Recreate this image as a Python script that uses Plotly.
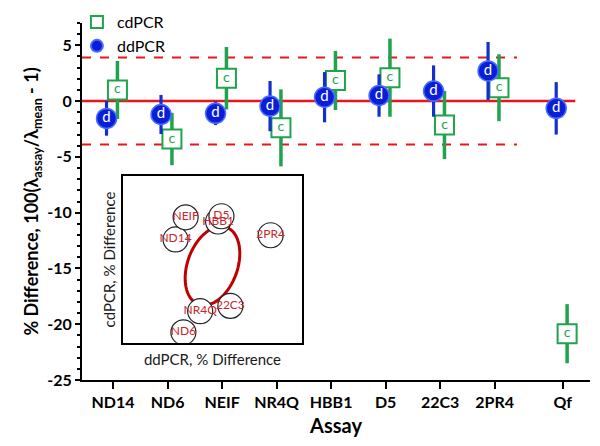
import math
import plotly.graph_objects as go

# ---------------- data ----------------
assays = ["ND14", "ND6", "NEIF", "NR4Q", "HBB1", "D5", "22C3", "2PR4", "Qf"]
assay_pos = [1, 2, 3, 4, 5, 6, 7, 8, 9.25]
dd_vals = [-1.55, -1.2, -1.1, -0.45, 0.35, 0.5, 0.9, 2.7, -0.65]
dd_err = [1.55, 1.75, 1.05, 2.25, 2.25, 1.9, 2.3, 2.6, 2.35]
cd_vals = [1.0, -3.4, 2.05, -2.4, 1.85, 2.1, -2.15, 1.2, -20.85]
cd_err = [2.6, 2.35, 2.8, 3.45, 2.65, 3.5, 3.05, 3.0, 2.65]
limit_band = 3.9
y_ticks = [5, 0, -5, -10, -15, -20, -25]

# inset: ddPCR vs cdPCR differences for the 8 assays (Qf excluded)
inset_names = assays[:8]
inset_dd = dd_vals[:8]
inset_cd = cd_vals[:8]

# ---------------- style ----------------
FONT = "Lato"
GREEN = "#1fa34c"
BLUE = "#0a1ed8"
BLUE_BAR = "#1430cc"
RED = "#e8161c"
INSET_RED = "#c8262c"
D_OFF = -0.12
C_OFF = 0.08

fig = go.Figure()

cx = [p + C_OFF for p in assay_pos]
dx = [p + D_OFF for p in assay_pos]

fig.add_trace(go.Scatter(
    x=cx, y=cd_vals, mode="markers", name="cdPCR",
    marker=dict(symbol="square", size=19, color="white", line=dict(color=GREEN, width=2)),
    error_y=dict(type="data", array=cd_err, color=GREEN, thickness=3.5, width=0),
))
fig.add_trace(go.Scatter(
    x=cx, y=cd_vals, mode="text", text=["c"] * len(cx), showlegend=False,
    textfont=dict(family=FONT, size=14, color=GREEN), textposition="middle center",
))
fig.add_trace(go.Scatter(
    x=dx, y=dd_vals, mode="markers", name="ddPCR",
    marker=dict(symbol="circle", size=20, color=BLUE, line=dict(color="#4a6cff", width=1.5)),
    error_y=dict(type="data", array=dd_err, color=BLUE_BAR, thickness=3.2, width=0),
))
fig.add_trace(go.Scatter(
    x=dx, y=dd_vals, mode="text", text=["d"] * len(dx), showlegend=False,
    textfont=dict(family=FONT, size=15, color="white"), textposition="middle center",
))

# inset scatter
fig.add_trace(go.Scatter(
    x=inset_dd, y=inset_cd, mode="markers+text", text=inset_names, showlegend=False,
    xaxis="x2", yaxis="y2",
    marker=dict(symbol="circle", size=25, color="white", line=dict(color="#222222", width=1.2)),
    textfont=dict(family=FONT, size=12, color=INSET_RED), textposition="middle center",
))

# reference lines
fig.add_shape(type="line", xref="x", yref="y", x0=0.43, x1=9.48, y0=0, y1=0,
              line=dict(color=RED, width=2.5), layer="below")
for yy in (limit_band, -limit_band):
    fig.add_shape(type="line", xref="x", yref="y", x0=0.43, x1=8.41, y0=yy, y1=yy,
                  line=dict(color=RED, width=2, dash="dash"), layer="below")

# ellipse in inset (decoration)
ecx, ecy = 0.1, -0.25
a_px, b_px, phi = 41, 25, math.radians(70)
sx, sy = 22.4, 21.1
pts = []
for i in range(73):
    t = 2 * math.pi * i / 72
    px = a_px * math.cos(t) * math.cos(phi) - b_px * math.sin(t) * math.sin(phi)
    py = a_px * math.cos(t) * math.sin(phi) + b_px * math.sin(t) * math.cos(phi)
    pts.append((ecx + px / sx, ecy + py / sy))
path = "M " + " L ".join(f"{x:.4f},{y:.4f}" for x, y in pts) + " Z"
fig.add_shape(type="path", path=path, xref="x2", yref="y2",
              line=dict(color="#c00000", width=3), layer="below")

fig.update_layout(
    width=592, height=438,
    margin=dict(l=74, r=10, t=15, b=66, autoexpand=False),
    paper_bgcolor="white", plot_bgcolor="white",
    font=dict(family=FONT, color="black"),
    showlegend=True,
    legend=dict(x=-0.01, y=1.05, xanchor="left", yanchor="top",
                bgcolor="rgba(0,0,0,0)", font=dict(family=FONT, size=16),
                itemwidth=30, itemsizing="constant", tracegroupgap=0),
    xaxis=dict(
        range=[0.43, 9.75], showline=True, linecolor="black", linewidth=2,
        showgrid=False, zeroline=False, automargin=False,
        tickmode="array", tickvals=assay_pos, ticktext=assays,
        ticks="outside", ticklen=7, tickwidth=2, tickcolor="black",
        tickfont=dict(family=FONT, size=16, weight="bold"),
        title=dict(text="Assay", font=dict(family=FONT, size=20, weight="bold"), standoff=9),
    ),
    yaxis=dict(
        range=[-25, 7], showline=True, linecolor="black", linewidth=2,
        showgrid=False, zeroline=False, automargin=False,
        tickmode="array", tickvals=y_ticks, ticktext=[str(v) for v in y_ticks],
        ticks="outside", ticklen=5, tickwidth=2, tickcolor="black",
        minor=dict(dtick=1, tick0=0, ticks="outside", ticklen=3, tickwidth=1.5, tickcolor="black"),
        tickfont=dict(family=FONT, size=16, weight="bold"),
        title=dict(text="% Difference, 100(λ<sub>assay</sub>/λ<sub>mean</sub> - 1)",
                   font=dict(family=FONT, size=18, weight="bold"), standoff=4),
    ),
    xaxis2=dict(
        domain=[0.0807, 0.433], anchor="y2", range=[-3.9, 4.1],
        showline=True, mirror=True, linecolor="black", linewidth=2,
        showgrid=False, zeroline=False, showticklabels=False, ticks="",
        title=dict(text="ddPCR, % Difference", font=dict(family=FONT, size=15, color="#1a1a1a"), standoff=11),
    ),
    yaxis2=dict(
        domain=[0.104, 0.571], anchor="x2", range=[-3.9, 4.0],
        showline=True, mirror=True, linecolor="black", linewidth=2,
        showgrid=False, zeroline=False, showticklabels=False, ticks="",
        title=dict(text="cdPCR, % Difference", font=dict(family=FONT, size=15, color="#1a1a1a"), standoff=2),
    ),
)

fig.write_html("out.html")
